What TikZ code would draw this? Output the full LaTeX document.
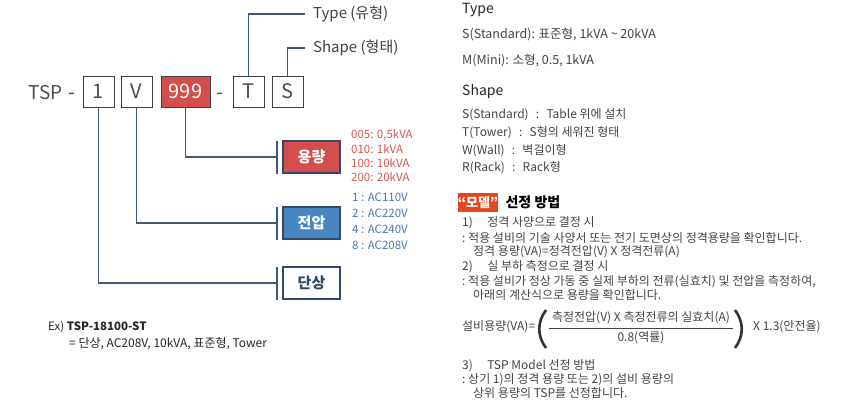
\documentclass[tikz,border=0pt]{standalone}
\usepackage{fontspec}
\setmainfont{Noto Sans CJK KR}
\usetikzlibrary{positioning}
\definecolor{linkblue}{HTML}{3E5A78}
\definecolor{edgeblue}{HTML}{34486A}
\definecolor{capred}{HTML}{D24F4B}
\definecolor{voltblue}{HTML}{4786C1}
\definecolor{listred}{HTML}{D9534F}
\definecolor{listblue}{HTML}{4A78A8}
\definecolor{txtgray}{HTML}{444444}
\definecolor{modelred}{HTML}{E4471F}
\newcommand{\pxsize}[1]{\fontsize{#1}{#1}\selectfont}
\begin{document}
\begin{tikzpicture}[x=1pt,y=-1pt,
  codebox/.style={draw=black!75,line width=0.9pt,minimum width=31,minimum height=31,inner sep=0,font=\pxsize{20},text=black!70},
  itembox/.style={draw=edgeblue,line width=1.5pt,minimum width=57,minimum height=32,inner sep=0,font=\pxsize{15}\bfseries},
  link/.style={draw=linkblue,line width=1.6pt},
  txt/.style={anchor=west,inner sep=0,text=txtgray,font=\pxsize{12}}]
\useasboundingbox (0,0) rectangle (856,416);
% model code
\node[anchor=base east,inner sep=0,font=\pxsize{19},text=black!70] (tsp) at (63,99) {TSP};
\node[anchor=base,inner sep=0,font=\pxsize{20},text=black!70] (dasha) at (72,99) {-};
\foreach \name/\x/\t in {one/98.5/1, volt/136.5/V, typ/248.5/T, shp/287.5/S} % white code boxes
\node[codebox] (\name) at (\x,91.5) {\t};
\node[codebox,minimum width=49,fill=capred,text=white] (cap) at (185.5,91.5) {999};
\node[anchor=base,inner sep=0,font=\pxsize{20},text=black!70] (dashb) at (220,99) {-};
% labels above
\node[anchor=west,inner sep=0,xshift=8,font=\pxsize{15},text=black!75] (typlbl) at (305,14) {Type (유형)};
\node[anchor=west,inner sep=0,xshift=8,font=\pxsize{15},text=black!75] (shplbl) at (305,48) {Shape (형태)};
\draw[link] (typ.north) |- ([xshift=-8]typlbl.west);
\draw[link] (shp.north) |- ([xshift=-8]shplbl.west);
% item boxes below
\node[itembox,fill=capred,text=white] (capbox) at (311.5,157) {용량};
\node[itembox,fill=voltblue,text=white] (voltbox) at (311.5,223) {전압};
\node[itembox,fill=white,text=edgeblue] (phbox) at (311.5,283) {단상};
\foreach \b in {capbox,voltbox,phbox} % edit here for the bars
\draw[link] ([xshift=-5,yshift=-1]\b.north west) -- ([xshift=-5]\b.south west);
\draw[link] (cap.south) |- ([xshift=-5]capbox.west);
\draw[link] (volt.south) |- ([xshift=-5]voltbox.west);
\draw[link] (one.south) |- ([xshift=-5]phbox.west);
\foreach \y/\t in {135/{005: 0,5kVA}, 149/{010: 1kVA}, 163/{100: 10kVA}, 177/{200: 20kVA}}
\node[txt,text=listred,font=\pxsize{11.5}] at (351,\y) {\t};
\foreach \y/\t in {197/{1 : AC110V}, 213/{2 : AC220V}, 229/{4 : AC240V}, 245/{8 : AC208V}}
\node[txt,text=listblue,font=\pxsize{11.5}] at (352,\y) {\t};
% example
\node[txt,text=black!85,font=\pxsize{11.5}] (ex) at (48,327) {Ex) \textbf{TSP-18100-ST}};
\node[txt,text=black!85,font=\pxsize{12}] (exline) at (69,344) {= 단상, AC208V, 10kVA, 표준형, Tower};
% right column
\node[txt,text=black!85,font=\pxsize{14}] (typhd) at (462,10) {Type};
\node[txt,font=\pxsize{12.5}] at (462,35) {S(Standard): 표준형, 1kVA \textasciitilde{} 20kVA};
\node[txt,font=\pxsize{12.5}] at (462,61) {M(Mini): 소형, 0.5, 1kVA};
\node[txt,text=black!85,font=\pxsize{14}] (shphd) at (462,92) {Shape};
\foreach \y/\t in {115/{S(Standard)\hspace{0.6em}:\hspace{0.6em}Table 위에 설치}, 133/{T(Tower)\hspace{0.6em}:\hspace{0.6em}S형의 세워진 형태}, 151/{W(Wall)\hspace{0.6em}:\hspace{0.6em}벽걸이형}, 168/{R(Rack)\hspace{0.6em}:\hspace{0.6em}Rack형}}
\node[txt] at (462,\y) {\t};
\node[fill=modelred,text=white,minimum width=38,minimum height=19,inner sep=0,font=\pxsize{13}\bfseries] (model) at (478,202.5) {“모델”};
\node[txt,text=black,font=\pxsize{14}\bfseries,right=7 of model] (modelhd) {선정 방법};
\foreach \x/\y/\t in {462/223/{1)\hspace{1.2em}정격 사양으로 결정 시}, 462/238/{:\ 적용 설비의 기술 사양서 또는 전기 도면상의 정격용량을 확인합니다.}, 473/252/{정격 용량(VA)=정격전압(V) X 정격전류(A)}, 462/267/{2)\hspace{1.2em}실 부하 측정으로 결정 시}, 462/282/{:\ 적용 설비가 정상 가동 중 실제 부하의 전류(실효치) 및 전압을 측정하여,}, 473/295/{아래의 계산식으로 용량을 확인합니다.}}
\node[txt] at (\x,\y) {\t};
% formula
\node[txt] (lhs) at (462,327) {설비용량(VA)=};
\node[inner sep=0,text=txtgray,font=\pxsize{12}] (num) at (641,318) {측정전압(V) X 측정전류의 실효치(A)};
\node[inner sep=0,text=txtgray,font=\pxsize{12}] (den) at (641,338) {0.8(역률)};
\draw[txtgray,line width=0.6pt] (549,328) -- (733,328);
\draw[black!80,line width=2.6pt] (546,310) .. controls (537,322) and (537,336) .. (546,348);
\draw[black!80,line width=2.6pt] (735,310) .. controls (744,322) and (744,336) .. (735,348);
\node[txt] (rhs) at (753,327) {X 1.3(안전율)};
\foreach \x/\y/\t in {462/366/{3)\hspace{1.2em}TSP Model 선정 방법}, 462/380/{:\ 상기 1)의 정격 용량 또는 2)의 설비 용량의}, 473/393/{상위 용량의 TSP를 선정합니다.}}
\node[txt] at (\x,\y) {\t};
\end{tikzpicture}
\end{document}
